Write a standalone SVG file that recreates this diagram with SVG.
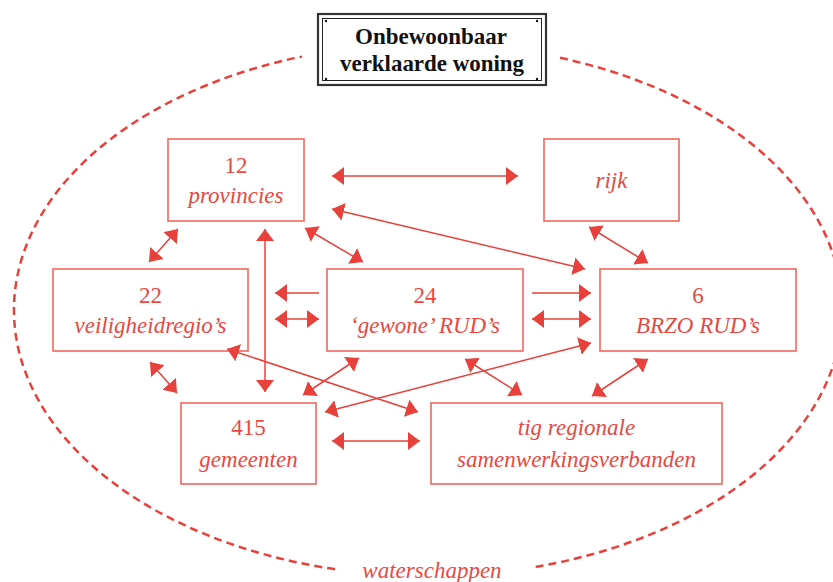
<svg xmlns="http://www.w3.org/2000/svg" width="833" height="582" viewBox="0 0 833 582">
<style>
.box{fill:#fff;stroke:#f0665e;stroke-width:1.6}
.lbl{font-family:"Liberation Serif",serif;font-size:23px;fill:#e8483f;text-anchor:middle}
.it{font-style:italic}
.con{stroke:#e8403a;stroke-width:1.5;fill:none}
.dbl{marker-start:url(#ah);marker-end:url(#ah)}
.one{marker-end:url(#ah)}
.title{font-family:"Liberation Serif",serif;font-weight:bold;font-size:24px;fill:#111;text-anchor:middle}
</style>
<defs>
<marker id="ah" markerUnits="userSpaceOnUse" markerWidth="13" markerHeight="19" refX="12" refY="9" orient="auto-start-reverse">
<path d="M0,0 L12,9 L0,18 z" fill="#e8403a"/>
</marker>
</defs>
<rect width="833" height="582" fill="#fff"/>
<g id="boundary">
<path d="M560,57.8 A414,266 0 0 1 532,567.5" fill="none" stroke="#e8403a" stroke-width="2.5" stroke-dasharray="8 5"/>
<path d="M335,569.2 A414,266 0 0 1 302,56.6" fill="none" stroke="#e8403a" stroke-width="2.5" stroke-dasharray="8 5"/>
<text class="lbl it" x="432" y="578">waterschappen</text>
</g>
<g id="title">
<rect x="318" y="14" width="228" height="71" fill="#fff" stroke="#333" stroke-width="2.2"/>
<rect x="322.5" y="18.5" width="219" height="62" fill="none" stroke="#222" stroke-width="1"/>
<circle cx="326" cy="21" r="1.2" fill="#111"/>
<circle cx="537" cy="21" r="1.2" fill="#111"/>
<circle cx="326" cy="79" r="1.2" fill="#111"/>
<circle cx="537" cy="79" r="1.2" fill="#111"/>
<text class="title" x="431" y="44" textLength="152" lengthAdjust="spacingAndGlyphs">Onbewoonbaar</text>
<text class="title" x="432" y="71" textLength="184" lengthAdjust="spacingAndGlyphs">verklaarde woning</text>
</g>
<g id="provincies">
<rect class="box" x="168" y="139" width="136" height="82"/>
<text class="lbl" x="236" y="173">12</text>
<text class="lbl it" x="236" y="203">provincies</text>
</g>
<g id="rijk">
<rect class="box" x="544" y="139" width="135" height="82"/>
<text class="lbl it" x="611.5" y="188">rijk</text>
</g>
<g id="veiligheidregios">
<rect class="box" x="53" y="269" width="195" height="82"/>
<text class="lbl" x="150.5" y="303">22</text>
<text class="lbl it" x="150.5" y="333">veiligheidregio’s</text>
</g>
<g id="gewone-ruds">
<rect class="box" x="327" y="269" width="196" height="82"/>
<text class="lbl" x="425" y="303">24</text>
<text class="lbl it" x="425" y="333">‘gewone’ RUD’s</text>
</g>
<g id="brzo-ruds">
<rect class="box" x="600" y="269" width="196" height="82"/>
<text class="lbl" x="698" y="303">6</text>
<text class="lbl it" x="698" y="333">BRZO RUD’s</text>
</g>
<g id="gemeenten">
<rect class="box" x="181" y="403" width="135" height="81"/>
<text class="lbl" x="248.5" y="435">415</text>
<text class="lbl it" x="248.5" y="467">gemeenten</text>
</g>
<g id="regionale">
<rect class="box" x="431" y="403" width="291" height="81"/>
<text class="lbl it" x="576.5" y="435">tig regionale</text>
<text class="lbl it" x="576.5" y="467">samenwerkingsverbanden</text>
</g>
<g id="connectors">
<line class="con dbl" x1="332" y1="176" x2="518" y2="176"/>
<line class="con dbl" x1="332" y1="209" x2="585" y2="269"/>
<line class="con dbl" x1="178" y1="229" x2="149" y2="262"/>
<line class="con dbl" x1="265" y1="229" x2="265" y2="392"/>
<line class="con dbl" x1="305" y1="228" x2="363" y2="262"/>
<line class="con dbl" x1="589" y1="227" x2="648" y2="263"/>
<line class="con one" x1="319" y1="293" x2="275" y2="293"/>
<line class="con dbl" x1="275" y1="319" x2="319" y2="319"/>
<line class="con one" x1="532" y1="293" x2="591" y2="293"/>
<line class="con dbl" x1="532" y1="319" x2="591" y2="319"/>
<line class="con dbl" x1="325" y1="412" x2="591" y2="343"/>
<line class="con dbl" x1="227" y1="349" x2="418" y2="412"/>
<line class="con dbl" x1="150" y1="362" x2="177" y2="393"/>
<line class="con dbl" x1="359" y1="358" x2="303" y2="395"/>
<line class="con dbl" x1="465" y1="359" x2="522" y2="395"/>
<line class="con dbl" x1="648" y1="359" x2="592" y2="396"/>
<line class="con dbl" x1="332" y1="441" x2="420" y2="441"/>
</g>
</svg>
